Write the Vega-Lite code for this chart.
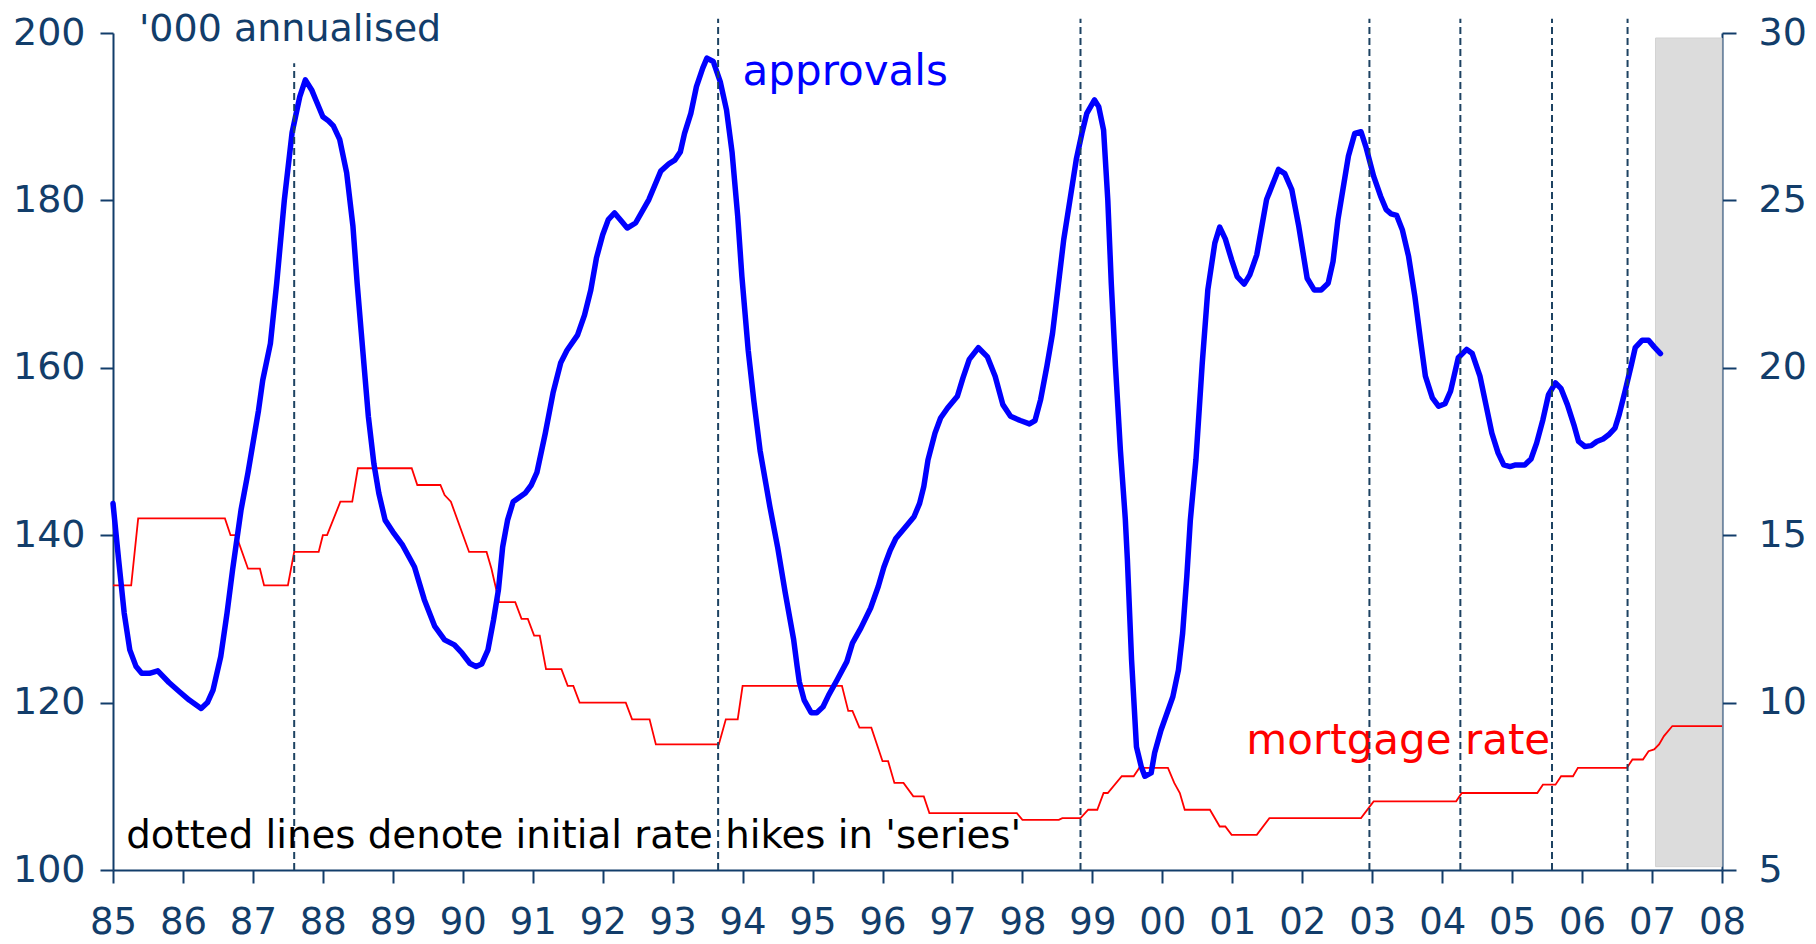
{
  "$schema": "https://vega.github.io/schema/vega-lite/v6.json",
  "width": 1609,
  "height": 837,
  "autosize": {"type": "none"},
  "padding": {"left": 113, "top": 33, "right": 94, "bottom": 74},
  "background": "#ffffff",
  "config": {"view": {"stroke": null}, "font": "DejaVu Sans"},
  "datasets": {
    "approvals": [
      {"t":1985.00,"v":143.8},{"t":1985.08,"v":137.1},{"t":1985.16,"v":130.7},{"t":1985.24,"v":126.3},{"t":1985.33,"v":124.3},{"t":1985.41,"v":123.5},{"t":1985.52,"v":123.5},{"t":1985.64,"v":123.8},{"t":1985.80,"v":122.4},{"t":1985.95,"v":121.3},
      {"t":1986.09,"v":120.3},{"t":1986.26,"v":119.3},{"t":1986.35,"v":120.0},{"t":1986.43,"v":121.5},{"t":1986.54,"v":125.5},{"t":1986.63,"v":130.7},{"t":1986.71,"v":135.9},{"t":1986.83,"v":143.0},{"t":1986.93,"v":147.5},
      {"t":1987.08,"v":154.9},{"t":1987.14,"v":158.5},{"t":1987.25,"v":162.9},{"t":1987.34,"v":170.1},{"t":1987.45,"v":180.1},{"t":1987.56,"v":188.1},{"t":1987.67,"v":192.4},{"t":1987.75,"v":194.4},{"t":1987.84,"v":193.2},{"t":1987.90,"v":192.0},
      {"t":1988.00,"v":190.0},{"t":1988.08,"v":189.5},{"t":1988.15,"v":188.9},{"t":1988.24,"v":187.3},{"t":1988.34,"v":183.3},{"t":1988.43,"v":176.9},{"t":1988.49,"v":170.1},{"t":1988.55,"v":164.1},{"t":1988.65,"v":154.2},{"t":1988.73,"v":148.5},{"t":1988.80,"v":145.0},{"t":1988.89,"v":141.8},
      {"t":1989.00,"v":140.4},{"t":1989.14,"v":138.8},{"t":1989.31,"v":136.2},{"t":1989.45,"v":132.3},{"t":1989.60,"v":129.1},{"t":1989.74,"v":127.5},{"t":1989.88,"v":126.9},{"t":1989.99,"v":125.9},
      {"t":1990.10,"v":124.7},{"t":1990.19,"v":124.3},{"t":1990.27,"v":124.6},{"t":1990.36,"v":126.3},{"t":1990.44,"v":129.9},{"t":1990.51,"v":133.5},{"t":1990.57,"v":138.6},{"t":1990.64,"v":141.8},{"t":1990.72,"v":144.0},{"t":1990.89,"v":145.0},{"t":1990.98,"v":146.0},
      {"t":1991.06,"v":147.5},{"t":1991.18,"v":152.2},{"t":1991.29,"v":157.0},{"t":1991.40,"v":160.6},{"t":1991.49,"v":162.1},{"t":1991.64,"v":163.9},{"t":1991.74,"v":166.3},{"t":1991.83,"v":169.3},{"t":1991.91,"v":173.1},
      {"t":1992.00,"v":175.9},{"t":1992.08,"v":177.7},{"t":1992.17,"v":178.5},{"t":1992.27,"v":177.5},{"t":1992.35,"v":176.7},{"t":1992.47,"v":177.3},{"t":1992.66,"v":180.1},{"t":1992.83,"v":183.5},{"t":1992.95,"v":184.4},
      {"t":1993.03,"v":184.8},{"t":1993.11,"v":185.8},{"t":1993.17,"v":188.0},{"t":1993.26,"v":190.4},{"t":1993.34,"v":193.6},{"t":1993.43,"v":195.8},{"t":1993.49,"v":197.0},{"t":1993.58,"v":196.6},{"t":1993.68,"v":194.2},{"t":1993.77,"v":190.8},{"t":1993.85,"v":185.7},{"t":1993.93,"v":178.1},{"t":1993.99,"v":170.9},
      {"t":1994.08,"v":162.1},{"t":1994.16,"v":156.1},{"t":1994.25,"v":150.1},{"t":1994.39,"v":143.4},{"t":1994.50,"v":138.6},{"t":1994.61,"v":133.1},{"t":1994.73,"v":127.5},{"t":1994.78,"v":124.3},{"t":1994.81,"v":122.5},{"t":1994.88,"v":120.3},{"t":1994.98,"v":118.8},
      {"t":1995.06,"v":118.8},{"t":1995.15,"v":119.5},{"t":1995.23,"v":120.9},{"t":1995.35,"v":122.7},{"t":1995.49,"v":124.9},{"t":1995.57,"v":127.1},{"t":1995.69,"v":128.9},{"t":1995.83,"v":131.3},{"t":1995.94,"v":133.9},
      {"t":1996.02,"v":136.2},{"t":1996.11,"v":138.2},{"t":1996.19,"v":139.6},{"t":1996.31,"v":140.8},{"t":1996.45,"v":142.2},{"t":1996.53,"v":143.8},{"t":1996.59,"v":145.8},{"t":1996.65,"v":149.0},{"t":1996.75,"v":152.2},{"t":1996.83,"v":154.0},{"t":1996.93,"v":155.2},
      {"t":1997.07,"v":156.6},{"t":1997.15,"v":158.8},{"t":1997.24,"v":161.0},{"t":1997.37,"v":162.4},{"t":1997.50,"v":161.3},{"t":1997.61,"v":159.0},{"t":1997.72,"v":155.6},{"t":1997.83,"v":154.2},{"t":1997.97,"v":153.7},
      {"t":1998.10,"v":153.3},{"t":1998.18,"v":153.7},{"t":1998.26,"v":156.2},{"t":1998.35,"v":160.2},{"t":1998.43,"v":164.1},{"t":1998.51,"v":169.7},{"t":1998.59,"v":175.3},{"t":1998.68,"v":180.1},{"t":1998.77,"v":184.9},{"t":1998.85,"v":188.0},{"t":1998.92,"v":190.4},
      {"t":1999.03,"v":192.0},{"t":1999.09,"v":191.2},{"t":1999.16,"v":188.4},{"t":1999.22,"v":180.1},{"t":1999.27,"v":170.1},{"t":1999.33,"v":160.2},{"t":1999.40,"v":150.2},{"t":1999.47,"v":142.0},{"t":1999.50,"v":137.1},{"t":1999.56,"v":125.1},{"t":1999.63,"v":114.7},{"t":1999.70,"v":112.3},{"t":1999.75,"v":111.2},{"t":1999.84,"v":111.6},{"t":1999.89,"v":114.0},{"t":1999.98,"v":116.7},
      {"t":2000.15,"v":120.7},{"t":2000.23,"v":123.9},{"t":2000.29,"v":128.3},{"t":2000.35,"v":135.1},{"t":2000.40,"v":141.8},{"t":2000.48,"v":149.0},{"t":2000.57,"v":160.5},{"t":2000.65,"v":169.3},{"t":2000.75,"v":174.9},{"t":2000.82,"v":176.8},{"t":2000.90,"v":175.4},{"t":2000.99,"v":172.9},
      {"t":2001.07,"v":170.9},{"t":2001.17,"v":170.0},{"t":2001.25,"v":171.1},{"t":2001.35,"v":173.5},{"t":2001.49,"v":180.1},{"t":2001.66,"v":183.7},{"t":2001.75,"v":183.2},{"t":2001.85,"v":181.3},{"t":2001.95,"v":176.9},
      {"t":2002.07,"v":170.7},{"t":2002.17,"v":169.3},{"t":2002.27,"v":169.3},{"t":2002.37,"v":170.1},{"t":2002.44,"v":172.7},{"t":2002.51,"v":177.7},{"t":2002.66,"v":185.3},{"t":2002.75,"v":188.0},{"t":2002.84,"v":188.2},{"t":2002.91,"v":186.4},
      {"t":2003.02,"v":182.9},{"t":2003.12,"v":180.5},{"t":2003.20,"v":178.9},{"t":2003.27,"v":178.4},{"t":2003.35,"v":178.2},{"t":2003.43,"v":176.5},{"t":2003.52,"v":173.3},{"t":2003.61,"v":168.5},{"t":2003.69,"v":163.3},{"t":2003.76,"v":159.0},{"t":2003.86,"v":156.4},{"t":2003.95,"v":155.4},
      {"t":2004.04,"v":155.7},{"t":2004.12,"v":157.2},{"t":2004.23,"v":161.2},{"t":2004.35,"v":162.2},{"t":2004.43,"v":161.7},{"t":2004.54,"v":159.0},{"t":2004.63,"v":155.4},{"t":2004.71,"v":152.2},{"t":2004.80,"v":149.8},{"t":2004.88,"v":148.4},{"t":2004.97,"v":148.2},
      {"t":2005.05,"v":148.4},{"t":2005.18,"v":148.4},{"t":2005.27,"v":149.1},{"t":2005.35,"v":151.0},{"t":2005.44,"v":153.8},{"t":2005.52,"v":156.8},{"t":2005.62,"v":158.2},{"t":2005.70,"v":157.5},{"t":2005.79,"v":155.6},{"t":2005.89,"v":153.0},{"t":2005.95,"v":151.2},
      {"t":2006.04,"v":150.6},{"t":2006.13,"v":150.7},{"t":2006.21,"v":151.2},{"t":2006.30,"v":151.5},{"t":2006.38,"v":152.0},{"t":2006.47,"v":152.8},{"t":2006.53,"v":154.4},{"t":2006.62,"v":157.4},{"t":2006.70,"v":160.2},{"t":2006.76,"v":162.4},{"t":2006.86,"v":163.3},{"t":2006.95,"v":163.3},
      {"t":2007.03,"v":162.5},{"t":2007.12,"v":161.7}
    ],
    "rate": [
      {"t":1985.00,"r":13.5},{"t":1985.26,"r":13.5},{"t":1985.36,"r":15.5},{"t":1986.60,"r":15.5},{"t":1986.68,"r":15.0},{"t":1986.76,"r":15.0},{"t":1986.93,"r":14.0},{"t":1987.10,"r":14.0},{"t":1987.16,"r":13.5},{"t":1987.50,"r":13.5},{"t":1987.59,"r":14.5},{"t":1987.94,"r":14.5},{"t":1988.00,"r":15.0},{"t":1988.06,"r":15.0},{"t":1988.25,"r":16.0},{"t":1988.42,"r":16.0},{"t":1988.50,"r":17.0},
      {"t":1989.27,"r":17.0},{"t":1989.35,"r":16.5},{"t":1989.68,"r":16.5},{"t":1989.74,"r":16.2},{"t":1989.83,"r":16.0},{"t":1990.09,"r":14.5},{"t":1990.34,"r":14.5},{"t":1990.41,"r":14.0},{"t":1990.52,"r":13.0},{"t":1990.75,"r":13.0},{"t":1990.84,"r":12.5},{"t":1990.93,"r":12.5},{"t":1991.02,"r":12.0},{"t":1991.10,"r":12.0},{"t":1991.19,"r":11.0},{"t":1991.41,"r":11.0},{"t":1991.50,"r":10.5},{"t":1991.58,"r":10.5},{"t":1991.67,"r":10.0},
      {"t":1992.33,"r":10.0},{"t":1992.42,"r":9.5},{"t":1992.67,"r":9.5},{"t":1992.76,"r":8.75},{"t":1993.66,"r":8.75},{"t":1993.76,"r":9.5},{"t":1993.93,"r":9.5},{"t":1994.00,"r":10.5},{"t":1995.42,"r":10.5},{"t":1995.51,"r":9.75},{"t":1995.57,"r":9.75},{"t":1995.67,"r":9.25},{"t":1995.84,"r":9.25},{"t":1996.00,"r":8.25},{"t":1996.08,"r":8.25},{"t":1996.17,"r":7.6},{"t":1996.30,"r":7.6},{"t":1996.44,"r":7.2},{"t":1996.59,"r":7.2},{"t":1996.67,"r":6.7},
      {"t":1997.92,"r":6.7},{"t":1998.00,"r":6.5},{"t":1998.52,"r":6.5},{"t":1998.57,"r":6.55},{"t":1998.83,"r":6.55},{"t":1998.94,"r":6.8},{"t":1999.07,"r":6.8},{"t":1999.16,"r":7.3},{"t":1999.22,"r":7.3},{"t":1999.42,"r":7.8},{"t":1999.59,"r":7.8},{"t":1999.67,"r":8.05},{"t":2000.08,"r":8.05},{"t":2000.17,"r":7.6},{"t":2000.25,"r":7.3},{"t":2000.32,"r":6.8},{"t":2000.68,"r":6.8},{"t":2000.82,"r":6.3},{"t":2000.90,"r":6.3},{"t":2000.99,"r":6.05},
      {"t":2001.35,"r":6.05},{"t":2001.53,"r":6.55},{"t":2002.84,"r":6.55},{"t":2003.02,"r":7.05},{"t":2004.20,"r":7.05},{"t":2004.28,"r":7.3},{"t":2005.36,"r":7.3},{"t":2005.44,"r":7.55},{"t":2005.62,"r":7.55},{"t":2005.70,"r":7.8},{"t":2005.87,"r":7.8},{"t":2005.94,"r":8.05},{"t":2006.64,"r":8.05},{"t":2006.72,"r":8.3},{"t":2006.87,"r":8.3},{"t":2006.95,"r":8.55},{"t":2007.03,"r":8.6},{"t":2007.10,"r":8.75},{"t":2007.17,"r":9.0},{"t":2007.29,"r":9.3},{"t":2008.00,"r":9.3}
    ],
    "hikes": [
      {"t":1987.59,"lo":100,"hi":196.4},{"t":1993.65,"lo":100,"hi":201.7},{"t":1998.83,"lo":100,"hi":201.7},{"t":2002.96,"lo":100,"hi":201.7},{"t":2004.26,"lo":100,"hi":201.7},{"t":2005.57,"lo":100,"hi":201.7},{"t":2006.65,"lo":100,"hi":201.7}
    ],
    "shade": [{"t0":2007.05,"t1":2008.0,"lo":100.4,"hi":199.4}],
    "notes": [
      {"label":"'000 annualised","t":1985.37,"v":199.1},
      {"label":"approvals","t":1994.0,"v":193.8},
      {"label":"dotted lines denote initial rate hikes in 'series'","t":1985.19,"v":102.6},
      {"label":"mortgage rate","t":2001.2,"v":8.45}
    ]
  },
  "encoding": {
    "x": {"type": "quantitative", "scale": {"domain": [1985, 2008], "nice": false, "zero": false},
      "axis": {"title": null, "values": [1985,1986,1987,1988,1989,1990,1991,1992,1993,1994,1995,1996,1997,1998,1999,2000,2001,2002,2003,2004,2005,2006,2007,2008], "labelExpr": "substring(toString(datum.value), 2, 4)", "grid": false, "tickSize": 13, "tickWidth": 2, "domainWidth": 2, "domainColor": "#123d6a", "tickColor": "#123d6a", "labelColor": "#123d6a", "labelFontSize": 37, "labelBaseline": "alphabetic", "labelPadding": 50, "labelFlush": false, "labelOverlap": false, "labelFont": "DejaVu Sans"}}
  },
  "layer": [
    {
      "data": {"name": "shade"},
      "mark": {"type": "rect", "fill": "#dcdcdc", "stroke": "#d2d2d2", "strokeWidth": 1},
      "encoding": {
        "x": {"field": "t0", "type": "quantitative"},
        "x2": {"field": "t1"},
        "y": {"field": "lo", "type": "quantitative", "scale": {"domain": [100, 200], "nice": false, "zero": false},
          "axis": {"orient": "left", "title": null, "values": [100, 120, 140, 160, 180, 200], "grid": false, "tickSize": 13, "tickWidth": 2, "domainWidth": 2, "domainColor": "#123d6a", "tickColor": "#123d6a", "labelColor": "#123d6a", "labelFontSize": 38, "labelPadding": 15, "labelFont": "DejaVu Sans"}},
        "y2": {"field": "hi"}
      }
    },
    {
      "data": {"name": "rate"},
      "mark": {"type": "line", "color": "#ff0000", "strokeWidth": 1.8},
      "encoding": {
        "x": {"field": "t", "type": "quantitative"},
        "y": {"field": "r", "type": "quantitative", "scale": {"domain": [5, 30], "nice": false, "zero": false},
          "axis": {"orient": "right", "title": null, "values": [5, 10, 15, 20, 25, 30], "grid": false, "tickSize": 14, "tickWidth": 2, "domainWidth": 2, "domainColor": "#123d6a", "tickColor": "#123d6a", "labelColor": "#123d6a", "labelFontSize": 38, "labelPadding": 22, "labelFont": "DejaVu Sans"}}
      }
    },
    {
      "data": {"name": "notes"},
      "transform": [{"filter": "datum.label === 'mortgage rate'"}],
      "mark": {"type": "text", "color": "#ff0000", "fontSize": 42, "align": "left", "baseline": "alphabetic", "font": "DejaVu Sans"},
      "encoding": {
        "x": {"field": "t", "type": "quantitative"},
        "y": {"field": "v", "type": "quantitative", "scale": {"domain": [5, 30], "nice": false, "zero": false}, "axis": null},
        "text": {"field": "label"}
      }
    },
    {
      "data": {"name": "approvals"},
      "mark": {"type": "line", "color": "#0000ff", "strokeWidth": 5.5, "strokeJoin": "round", "strokeCap": "round"},
      "encoding": {
        "x": {"field": "t", "type": "quantitative"},
        "y": {"field": "v", "type": "quantitative", "scale": {"domain": [100, 200], "nice": false, "zero": false}, "axis": null}
      }
    },
    {
      "data": {"name": "hikes"},
      "mark": {"type": "rule", "color": "#1d4262", "strokeWidth": 2, "strokeDash": [7, 4]},
      "encoding": {
        "x": {"field": "t", "type": "quantitative"},
        "y": {"field": "lo", "type": "quantitative", "scale": {"domain": [100, 200], "nice": false, "zero": false}, "axis": null},
        "y2": {"field": "hi"}
      }
    },
    {
      "data": {"name": "notes"},
      "transform": [{"filter": "datum.label === '\\'000 annualised'"}],
      "mark": {"type": "text", "color": "#123d6a", "fontSize": 38, "align": "left", "baseline": "alphabetic", "font": "DejaVu Sans"},
      "encoding": {
        "x": {"field": "t", "type": "quantitative"},
        "y": {"field": "v", "type": "quantitative", "scale": {"domain": [100, 200], "nice": false, "zero": false}, "axis": null},
        "text": {"field": "label"}
      }
    },
    {
      "data": {"name": "notes"},
      "transform": [{"filter": "datum.label === 'approvals'"}],
      "mark": {"type": "text", "color": "#0000ff", "fontSize": 42, "align": "left", "baseline": "alphabetic", "font": "DejaVu Sans"},
      "encoding": {
        "x": {"field": "t", "type": "quantitative"},
        "y": {"field": "v", "type": "quantitative", "scale": {"domain": [100, 200], "nice": false, "zero": false}, "axis": null},
        "text": {"field": "label"}
      }
    },
    {
      "data": {"name": "notes"},
      "transform": [{"filter": "indexof(datum.label, 'dotted') === 0"}],
      "mark": {"type": "text", "color": "#000000", "fontSize": 38.7, "align": "left", "baseline": "alphabetic", "font": "DejaVu Sans"},
      "encoding": {
        "x": {"field": "t", "type": "quantitative"},
        "y": {"field": "v", "type": "quantitative", "scale": {"domain": [100, 200], "nice": false, "zero": false}, "axis": null},
        "text": {"field": "label"}
      }
    }
  ],
  "resolve": {"scale": {"y": "independent"}}
}
